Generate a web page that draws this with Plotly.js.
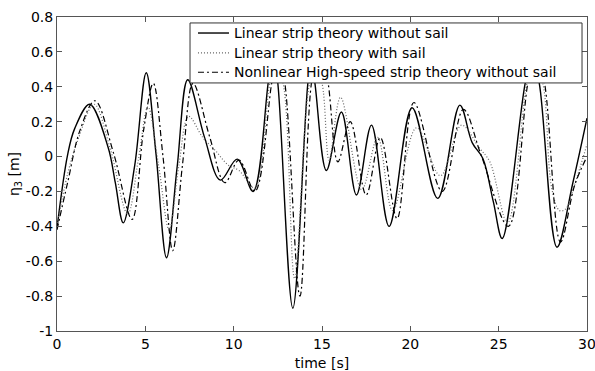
<!DOCTYPE html>
<html><head><meta charset="utf-8">
<script src="https://cdn.plot.ly/plotly-3.0.1.min.js"></script>
<style>body{margin:0;background:#fff}#c{width:595px;height:371px}</style>
</head><body><div id="c"></div>
<script>
// Linear strip theory without sail (solid)
const tLin = [0, 0.6, 1.0, 1.85, 2.9, 3.3, 3.75, 4.4, 5.05, 5.6, 6.2, 6.8, 7.4, 8.35, 9.25, 10.2, 11.1, 11.95, 12.22, 12.5, 13.35, 14.2, 14.4, 14.6, 15.25, 16.1, 16.95, 17.8, 18.8, 20.1, 21.55, 22.8, 23.5, 24.1, 24.7, 25.2, 26.5, 26.9, 27.3, 28.3, 29.2, 30];
const vLin = [-0.41, 0.01, 0.16, 0.30, 0.05, -0.15, -0.38, -0.05, 0.48, 0.02, -0.58, -0.06, 0.44, 0.11, -0.135, -0.015, -0.20, 0.42, 0.62, 0.42, -0.87, 0.42, 0.55, 0.42, -0.08, 0.255, -0.22, 0.18, -0.40, 0.28, -0.24, 0.295, 0.08, -0.01, -0.26, -0.47, 0.42, 0.58, 0.42, -0.52, -0.15, 0.22];

// Linear strip theory with sail (dotted)
const tSail = [0, 0.6, 1.2, 2.1, 3.0, 4.0, 4.6, 5.15, 5.75, 6.35, 6.9, 7.45, 8.25, 9.0, 9.7, 10.3, 11.2, 12.05, 12.4, 12.8, 13.45, 14.3, 14.65, 15.0, 15.4, 16.05, 17.25, 18.15, 19.0, 20.35, 21.7, 22.9, 23.9, 24.5, 25.5, 26.6, 27.0, 27.5, 28.0, 28.45, 28.8, 29.3, 30];
const vSail = [-0.40, -0.1, 0.1, 0.30, 0.05, -0.33, -0.02, 0.285, -0.05, -0.42, -0.05, 0.23, 0.11, 0.03, -0.05, -0.08, -0.18, 0.42, 0.52, 0.42, -0.70, 0.42, 0.50, 0.42, -0.02, 0.34, -0.19, 0.11, -0.31, 0.165, -0.11, 0.18, 0.05, -0.03, -0.38, 0.42, 0.55, 0.42, -0.18, -0.31, -0.30, -0.16, 0.07];

// Nonlinear High-speed strip theory without sail (dash-dot)
const tNl = [0, 0.6, 1.3, 2.15, 3.2, 4.25, 4.9, 5.45, 6.0, 6.55, 7.1, 7.7, 8.65, 9.5, 10.3, 11.2, 12.15, 12.5, 12.9, 13.75, 14.4, 14.9, 15.35, 15.9, 16.6, 17.5, 18.3, 19.25, 20.2, 21.8, 23.0, 24.0, 25.55, 26.65, 27.1, 27.6, 28.5, 29.3, 30];
const vNl = [-0.42, -0.15, 0.15, 0.32, 0.02, -0.36, 0.15, 0.42, 0.0, -0.54, -0.05, 0.42, 0.11, -0.15, -0.02, -0.20, 0.42, 0.62, 0.42, -0.80, 0.42, 0.66, 0.42, -0.03, 0.20, -0.22, 0.11, -0.355, 0.31, -0.20, 0.27, 0.01, -0.40, 0.42, 0.62, 0.42, -0.49, -0.165, 0.0];

const seriesNames = ['Linear strip theory without sail', 'Linear strip theory with sail', 'Nonlinear High-speed strip theory without sail'];
const xTicks = [0, 5, 10, 15, 20, 25, 30];
const yTicks = [-1, -0.8, -0.6, -0.4, -0.2, 0, 0.2, 0.4, 0.6, 0.8];
const yTickText = ['-1', '-0.8', '-0.6', '-0.4', '-0.2', '0', '0.2', '0.4', '0.6', '0.8'];

const F = 'DejaVu Sans, Arial, sans-serif';
const styles = [
  {color: '#000', width: 1.4},
  {color: '#666', width: 1.2, dash: '1px,2px'},
  {color: '#000', width: 1.2, dash: '6px,3px,2px,3px'}
];
const xs = [tLin, tSail, tNl], ys = [vLin, vSail, vNl];
const traces = xs.map((x, i) => ({x: x, y: ys[i], name: seriesNames[i], mode: 'lines', showlegend: false,
  line: Object.assign({shape: 'spline', smoothing: 1}, styles[i])}));

// manual legend box (paper coordinates)
const L = {x0: 0.251, x1: 0.9906, y0: 0.790, y1: 0.981, sx0: 0.266, sx1: 0.3245, tx: 0.331, rows: [0.949, 0.886, 0.824]};
const shapes = [{type: 'rect', xref: 'paper', yref: 'paper', x0: L.x0, x1: L.x1, y0: L.y0, y1: L.y1, fillcolor: '#fff', line: {color: '#333', width: 1}, layer: 'above'}];
const annotations = [];
seriesNames.forEach((n, i) => {
  shapes.push({type: 'line', xref: 'paper', yref: 'paper', x0: L.sx0, x1: L.sx1, y0: L.rows[i], y1: L.rows[i], layer: 'above', line: {color: styles[i].color, width: styles[i].width, dash: styles[i].dash || 'solid'}});
  annotations.push({xref: 'paper', yref: 'paper', x: L.tx, y: L.rows[i], xanchor: 'left', yanchor: 'middle', text: n, showarrow: false, font: {family: F, size: 14, color: '#000'}});
});

const axBase = {showgrid: false, zeroline: false, showline: true, linecolor: '#555', linewidth: 1, mirror: 'ticks', ticks: 'inside', ticklen: 5, tickcolor: '#555', ticklabeloverflow: 'allow', tickfont: {family: F, size: 14, color: '#000'}};
const layout = {
  width: 595, height: 371,
  margin: {l: 57, r: 8, t: 17, b: 40, pad: 0},
  paper_bgcolor: '#fff', plot_bgcolor: '#fff',
  font: {family: F, size: 14, color: '#000'},
  showlegend: false,
  shapes: shapes, annotations: annotations,
  xaxis: Object.assign({}, axBase, {range: [0, 30], tickvals: xTicks, ticktext: xTicks.map(String), title: {text: 'time [s]', font: {family: F, size: 14}, standoff: 13}}),
  yaxis: Object.assign({}, axBase, {range: [-1, 0.8], tickvals: yTicks, ticktext: yTickText, title: {text: 'η<sub>3</sub> [m]', font: {family: F, size: 14}, standoff: 2}})
};
Plotly.newPlot('c', traces, layout, {displayModeBar: false, staticPlot: true});
</script></body></html>
